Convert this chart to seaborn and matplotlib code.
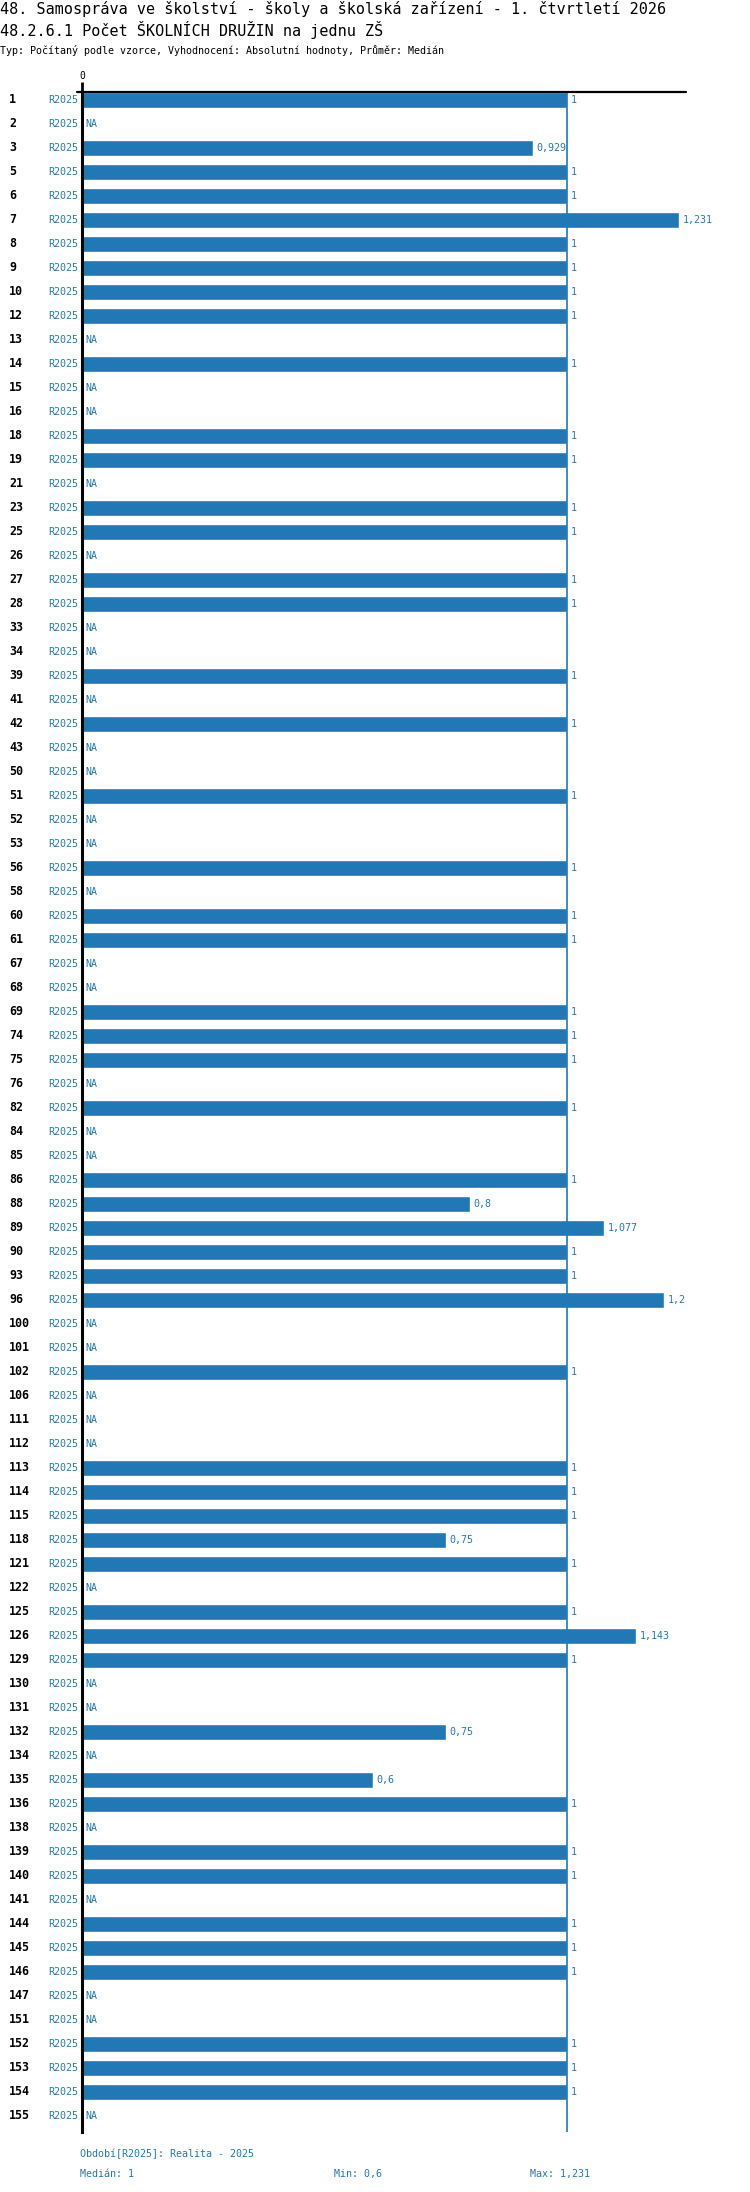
import numpy as np
import pandas as pd
import matplotlib
matplotlib.use("Agg")
import matplotlib.pyplot as plt
import seaborn as sns

# data
categories = [1, 2, 3, 5, 6, 7, 8, 9, 10, 12, 13, 14, 15, 16, 18, 19, 21, 23, 25, 26,
              27, 28, 33, 34, 39, 41, 42, 43, 50, 51, 52, 53, 56, 58, 60, 61, 67, 68, 69, 74,
              75, 76, 82, 84, 85, 86, 88, 89, 90, 93, 96, 100, 101, 102, 106, 111, 112, 113, 114, 115,
              118, 121, 122, 125, 126, 129, 130, 131, 132, 134, 135, 136, 138, 139, 140, 141, 144, 145, 146, 147,
              151, 152, 153, 154, 155]
NA = np.nan
values = [1, NA, 0.929, 1, 1, 1.231, 1, 1, 1, 1, NA, 1, NA, NA, 1, 1, NA, 1, 1, NA,
          1, 1, NA, NA, 1, NA, 1, NA, NA, 1, NA, NA, 1, NA, 1, 1, NA, NA, 1, 1,
          1, NA, 1, NA, NA, 1, 0.8, 1.077, 1, 1, 1.2, NA, NA, 1, NA, NA, NA, 1, 1, 1,
          0.75, 1, NA, 1, 1.143, 1, NA, NA, 0.75, NA, 0.6, 1, NA, 1, 1, NA, 1, 1, 1, NA,
          NA, 1, 1, 1, NA]
period = "R2025"
title1 = "48. Samospráva ve školství - školy a školská zařízení - 1. čtvrtletí 2026"
title2 = "48.2.6.1 Počet ŠKOLNÍCH DRUŽIN na jednu ZŠ"
subtitle = "Typ: Počítaný podle vzorce, Vyhodnocení: Absolutní hodnoty, Průměr: Medián"
footer_period = "Období[R2025]: Realita - 2025"

BLUE = "#2079b4"


def fmt(v):
    return f"{v:g}".replace(".", ",")


df = pd.DataFrame({"cat": [str(c) for c in categories], "value": values})
vals = df["value"].dropna()
median, vmin, vmax = vals.median(), vals.min(), vals.max()

sns.set_style("white")
plt.rcParams["font.family"] = ["DejaVu Sans Mono"]

W, H = 750, 2192
fig = plt.figure(figsize=(W / 100, H / 100), dpi=100)
x0, x1, y_top, y_bot = 82, 686, 92, 2132
ax = fig.add_axes([x0 / W, 1 - y_bot / H, (x1 - x0) / W, (y_bot - y_top) / H])

sns.barplot(data=df, y="cat", x="value", order=df["cat"], orient="h",
            color=BLUE, saturation=1, width=0.667, ax=ax)

n = len(df)
ax.set_ylim(n - 1 + 0.667, -0.333)
ax.set_xlim(0, (x1 - x0) / 485)
ax.axvline(median, color=BLUE, lw=1.2)

for s in ["right", "bottom", "top"]:
    ax.spines[s].set_visible(False)
ax.spines["left"].set_color("black")
ax.spines["left"].set_linewidth(2.2)
# top rule, sticks out a little left of the axis
fig.add_artist(plt.Line2D([77 / W, x1 / W], [1 - y_top / H, 1 - y_top / H],
                          color="black", lw=1.6))

ax.xaxis.tick_top()
ax.set_xticks([0])
ax.set_xticklabels(["0"], fontsize=7)
ax.tick_params(axis="x", length=7, width=2, pad=1, colors="black")
ax.set_yticks([])
ax.set_xlabel("")
ax.set_ylabel("")

for i, (c, v) in enumerate(zip(df["cat"], df["value"])):
    ax.annotate(c, xy=(9, i), xycoords=("figure pixels", "data"),
                ha="left", va="center", fontsize=8.4, fontweight="bold", color="black")
    ax.annotate(period, xy=(0, i), xytext=(-3, 0), textcoords="offset points",
                ha="right", va="center", fontsize=7.2, color=BLUE, annotation_clip=False)
    if np.isnan(v):
        ax.annotate("NA", xy=(0, i), xytext=(2.5, 0), textcoords="offset points",
                    ha="left", va="center", fontsize=7.2, color=BLUE)
    else:
        ax.annotate(fmt(v), xy=(v, i), xytext=(2.5, 0), textcoords="offset points",
                    ha="left", va="center", fontsize=7.2, color=BLUE)

fig.text(0, 1 - 9 / H, title1, ha="left", va="center", fontsize=10.9, color="black")
fig.text(0, 1 - 30 / H, title2, ha="left", va="center", fontsize=10.9, color="black")
fig.text(0, 1 - 51 / H, subtitle, ha="left", va="center", fontsize=7.2, color="black")

fig.text(80 / W, 1 - 2154 / H, footer_period, ha="left", va="center", fontsize=7.2, color=BLUE)
fig.text(80 / W, 1 - 2174 / H, f"Medián: {fmt(median)}", ha="left", va="center", fontsize=7.2, color=BLUE)
fig.text(334 / W, 1 - 2174 / H, f"Min: {fmt(vmin)}", ha="left", va="center", fontsize=7.2, color=BLUE)
fig.text(530 / W, 1 - 2174 / H, f"Max: {fmt(vmax)}", ha="left", va="center", fontsize=7.2, color=BLUE)

fig.savefig("out.png", dpi=100)
